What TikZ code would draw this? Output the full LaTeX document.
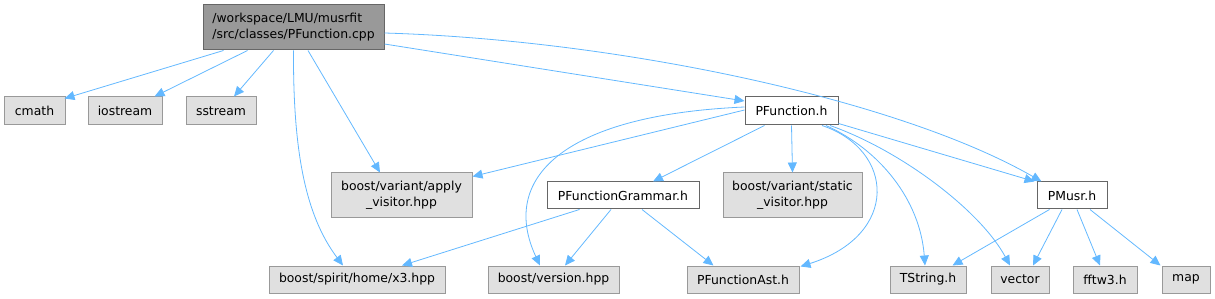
\documentclass[tikz,border=0pt]{standalone}
\usepackage{fontspec}
\setmainfont{DejaVu Sans}
\usetikzlibrary{arrows.meta}
\definecolor{edgec}{HTML}{63B8FF}
\definecolor{greyfill}{HTML}{E0E0E0}
\definecolor{greyline}{HTML}{999999}
\definecolor{rootfill}{HTML}{999999}
\definecolor{darkline}{HTML}{666666}
\tikzset{
  base/.style={draw, line width=1pt, inner sep=0pt, font=\fontsize{12.4}{16}\selectfont, align=center},
  sysbox/.style={base, fill=greyfill, draw=greyline},
  userbox/.style={base, fill=white, draw=darkline},
  rootbox/.style={base, fill=rootfill, draw=darkline},
  edge/.style={draw=edgec, line width=0.8pt, -{Triangle[length=10pt,width=9pt]}},
}
\begin{document}
\begin{tikzpicture}[x=1pt,y=-1pt]
\useasboundingbox (0,0) rectangle (1215,299);
% row 1
\node[rootbox, minimum width=181pt, minimum height=45pt, align=left] (root) at (293.5,27.5) {/workspace/LMU/musrfit\\/src/classes/PFunction.cpp};
\node[sysbox, minimum width=61pt, minimum height=28pt] (cmath) at (34.5,111) {cmath};
\node[sysbox, minimum width=74pt, minimum height=28pt] (iostream) at (125,111) {iostream};
\node[sysbox, minimum width=70pt, minimum height=28pt] (sstream) at (221,111) {sstream};
\node[userbox, minimum width=93pt, minimum height=28pt] (pfh) at (791.5,111) {PFunction.h};
% row 2
\node[sysbox, minimum width=141pt, minimum height=45pt] (apply) at (401.5,195.5) {boost/variant/apply\\\_visitor.hpp};
\node[userbox, minimum width=152pt, minimum height=27pt] (gram) at (623,195.5) {PFunctionGrammar.h};
\node[sysbox, minimum width=139pt, minimum height=45pt] (static) at (792.5,195.5) {boost/variant/static\\\_visitor.hpp};
\node[userbox, minimum width=70pt, minimum height=27pt] (pmusr) at (1072,195.5) {PMusr.h};
% row 3
\node[sysbox, minimum width=176pt, minimum height=27pt] (x3) at (357,279.5) {boost/spirit/home/x3.hpp};
\node[sysbox, minimum width=131pt, minimum height=27pt] (version) at (553.5,279.5) {boost/version.hpp};
\node[sysbox, minimum width=112pt, minimum height=27pt] (ast) at (743,279.5) {PFunctionAst.h};
\node[sysbox, minimum width=76pt, minimum height=27pt] (tstring) at (928,279.5) {TString.h};
\node[sysbox, minimum width=58pt, minimum height=27pt] (vector) at (1020,279.5) {vector};
\node[sysbox, minimum width=64pt, minimum height=27pt] (fftw) at (1105,279.5) {fftw3.h};
\node[sysbox, minimum width=48pt, minimum height=27pt] (map) at (1186,279.5) {map};
% root edges
\draw[edge] ([xshift=21pt]root.south west) -- ([xshift=-1pt,yshift=-2pt]cmath.north east);
\draw[edge] ([xshift=45pt]root.south west) -- ([xshift=-8pt]iostream.north east);
\draw[edge] ([xshift=71pt]root.south west) -- ([xshift=13pt]sstream.north);
\draw[edge] (root.south) .. controls (293,150) and (305,215) .. ([xshift=-14pt]x3.north);
\draw[edge] ([xshift=14.5pt]root.south) -- ([xshift=-21.5pt]apply.north);
\draw[edge] ([yshift=-16.5pt]root.east) -- ([yshift=10pt]pfh.west);
\draw[edge] ([yshift=-5.5pt]root.east) .. controls (620,40) and (900,100) .. ([xshift=5pt]pmusr.north west);
% PFunction.h edges
\draw[edge] ([yshift=1pt]pfh.west) -- ([yshift=-4pt]apply.north east);
\draw[edge] ([yshift=4pt]pfh.west) .. controls (560,115) and (500,180) .. ([xshift=-13.5pt]version.north);
\draw[edge] ([xshift=20pt]pfh.south west) -- ([xshift=30pt]gram.north);
\draw[edge] (pfh.south) -- (static.north);
\draw[edge] ([xshift=30.5pt]pfh.south) .. controls (895,150) and (900,235) .. ([xshift=1pt,yshift=-1pt]ast.north east);
\draw[edge] ([xshift=34.5pt]pfh.south) .. controls (880,150) and (920,200) .. ([xshift=-3pt]tstring.north);
\draw[edge] ([xshift=38.5pt]pfh.south) .. controls (900,150) and (980,210) .. ([xshift=-10pt]vector.north);
\draw[edge] ([yshift=2pt]pfh.south east) -- ([xshift=-2pt]pmusr.north west);
% Grammar edges
\draw[edge] ([xshift=33pt]gram.south west) -- ([xshift=45pt]x3.north);
\draw[edge] ([xshift=-12pt]gram.south) -- ([xshift=11.5pt]version.north);
\draw[edge] ([xshift=19pt]gram.south) -- ([xshift=27pt]ast.north west);
% PMusr edges
\draw[edge] ([xshift=13pt]pmusr.south west) -- ([xshift=-14pt]tstring.north east);
\draw[edge] ([xshift=-10pt]pmusr.south) -- ([xshift=13pt]vector.north);
\draw[edge] ([xshift=5pt]pmusr.south) -- ([xshift=-5pt]fftw.north);
\draw[edge] ([xshift=18pt]pmusr.south) -- ([xshift=-1pt]map.north west);
\end{tikzpicture}
\end{document}
